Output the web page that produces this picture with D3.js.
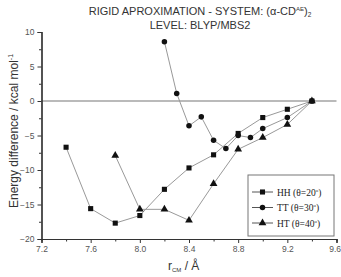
<!DOCTYPE html>
<html>
<head>
<meta charset="utf-8">
<script src="https://d3js.org/d3.v7.min.js"></script>
<style>
  body { margin: 0; background: #fff; }
  svg text { font-family: Arial, "Liberation Sans", sans-serif; }
  .tick text { fill: #555; font-size: 8.5px; }
  .legend text { font-family: "Liberation Serif", "DejaVu Serif", serif; font-size: 9.5px; fill: #222; }
</style>
</head>
<body>
<svg id="chart" width="341" height="277"></svg>
<script>
// data
var hhX = [7.4, 7.6, 7.8, 8.0, 8.2, 8.4, 8.6, 8.8, 9.0, 9.2, 9.4];
var hhY = [-6.7, -15.6, -17.7, -16.6, -12.8, -9.7, -7.8, -4.7, -2.4, -1.2, 0];
var ttX = [8.2, 8.3, 8.4, 8.5, 8.6, 8.7, 8.8, 8.9, 9.0, 9.2, 9.4];
var ttY = [8.6, 1.1, -3.6, -2.3, -5.7, -6.9, -5.0, -5.3, -4.0, -2.4, 0];
var htX = [7.8, 8.0, 8.2, 8.4, 8.6, 8.8, 9.0, 9.2, 9.4];
var htY = [-7.9, -15.7, -15.7, -17.3, -12.0, -7.0, -5.3, -3.4, 0];
var seriesNames = ["HH", "TT", "HT"];
var seriesAngles = ["20", "30", "40"];
var xTicks = [7.2, 7.6, 8.0, 8.4, 8.8, 9.2, 9.6];
var yTicks = [-20, -15, -10, -5, 0, 5, 10];

var series = [
  { name: seriesNames[0], ang: seriesAngles[0], sym: d3.symbolSquare, size: 26, pts: hhX.map(function(x, i) { return [x, hhY[i]]; }) },
  { name: seriesNames[1], ang: seriesAngles[1], sym: d3.symbolCircle, size: 24, pts: ttX.map(function(x, i) { return [x, ttY[i]]; }) },
  { name: seriesNames[2], ang: seriesAngles[2], sym: d3.symbolTriangle, size: 26, pts: htX.map(function(x, i) { return [x, htY[i]]; }) }
];

var svg = d3.select("#chart");
var x = d3.scaleLinear().domain([7.2, 9.6]).range([41.5, 336.5]);
var y = d3.scaleLinear().domain([-20, 10]).range([239, 32]);

// title
svg.append("text").attr("x", 200).attr("y", 15).attr("text-anchor", "middle")
  .attr("font-size", 11).attr("fill", "#333")
  .html('RIGID APROXIMATION - SYSTEM: (α-CD<tspan font-size="6" dy="-4">AE</tspan><tspan dy="4">)</tspan><tspan font-size="6.5" dy="2">2</tspan>');
svg.append("text").attr("x", 200).attr("y", 29).attr("text-anchor", "middle")
  .attr("font-size", 11).attr("fill", "#333").text("LEVEL: BLYP/MBS2");

// zero line
svg.append("line").attr("x1", x(7.2)).attr("x2", x(9.6)).attr("y1", y(0)).attr("y2", y(0))
  .attr("stroke", "#777").attr("stroke-width", 1.2);

// axes with minor ticks
var xMinor = d3.axisBottom(x).tickValues(d3.range(7.4, 9.6, 0.4)).tickSize(2.5).tickFormat("");
var yMinor = d3.axisLeft(y).tickValues(d3.range(-17.5, 10, 5)).tickSize(2.5).tickFormat("");
svg.append("g").attr("transform", "translate(0," + y(-20) + ")").call(xMinor);
svg.append("g").attr("transform", "translate(" + x(7.2) + ",0)").call(yMinor);
var xAxis = svg.append("g").attr("transform", "translate(0," + y(-20) + ")")
  .call(d3.axisBottom(x).tickValues(xTicks).tickSize(4).tickPadding(3).tickFormat(d3.format(".1f")));
var yAxis = svg.append("g").attr("transform", "translate(" + x(7.2) + ",0)")
  .call(d3.axisLeft(y).tickValues(yTicks).tickSize(4).tickPadding(3));
svg.selectAll(".domain").attr("stroke", "#333").attr("stroke-width", 1.2);
svg.selectAll(".tick line").attr("stroke", "#333");
svg.selectAll(".tick text").attr("font-family", "Arial, 'Liberation Sans', sans-serif");
// last x label sits at the window edge
xAxis.selectAll(".tick text").filter(function(d) { return d === 9.6; }).attr("text-anchor", "end").attr("dx", "4");

// axis labels
svg.append("text").attr("transform", "translate(18,131) rotate(-90)").attr("text-anchor", "middle")
  .attr("font-size", 12).attr("fill", "#333")
  .html('Energy difference / kcal mol<tspan font-size="7" dy="-5">-1</tspan>');
svg.append("text").attr("x", 168).attr("y", 270).attr("font-size", 12).attr("fill", "#333")
  .html('r<tspan font-size="6" dy="2">CM</tspan><tspan dy="-2"> / Å</tspan>');

// series
var line = d3.line().x(function(d) { return x(d[0]); }).y(function(d) { return y(d[1]); });
series.forEach(function(s) {
  svg.append("path").attr("d", line(s.pts)).attr("fill", "none")
    .attr("stroke", "#999").attr("stroke-width", 1);
  svg.selectAll(null).data(s.pts).enter().append("path")
    .attr("d", d3.symbol().type(s.sym).size(s.size))
    .attr("transform", function(d) { return "translate(" + x(d[0]) + "," + y(d[1]) + ")"; })
    .attr("fill", "#111");
});

// legend
var lg = svg.append("g").attr("class", "legend");
lg.append("rect").attr("x", 248).attr("y", 175).attr("width", 86).attr("height", 61)
  .attr("fill", "#fff").attr("stroke", "#777").attr("stroke-width", 1);
series.forEach(function(s, i) {
  var ly = 192 + i * 15.5;
  lg.append("line").attr("x1", 252).attr("x2", 273).attr("y1", ly).attr("y2", ly)
    .attr("stroke", "#555").attr("stroke-width", 1);
  lg.append("path").attr("d", d3.symbol().type(s.sym).size(s.size)())
    .attr("transform", "translate(262.5," + ly + ")").attr("fill", "#111");
  lg.append("text").attr("x", 277).attr("y", ly + 3.5)
    .html(s.name + ' (θ=' + s.ang + '<tspan font-size="5" dy="-4">o</tspan><tspan dy="4">)</tspan>');
});
</script>
</body>
</html>
